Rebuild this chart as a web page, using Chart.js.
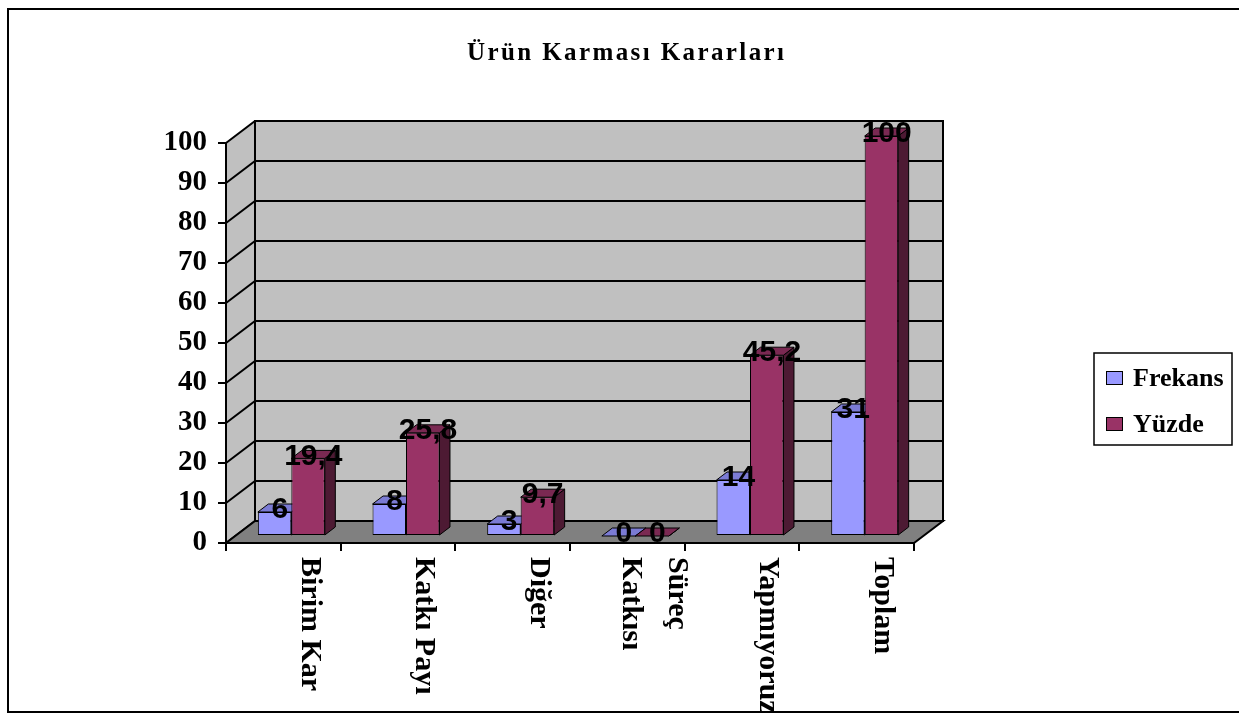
<!DOCTYPE html>
<html lang="tr">
<head>
<meta charset="utf-8">
<title>Ürün Karması Kararları</title>
<script src="https://cdn.jsdelivr.net/npm/chart.js@4.4.1/dist/chart.umd.min.js"></script>
<style>
  html, body { margin: 0; padding: 0; background: #fff; }
  canvas { display: block; }
</style>
</head>
<body>
<canvas id="chart" width="1239" height="717"></canvas>
<script>
// ---- data ----
const categories = ['Birim Kar', 'Katkı Payı', 'Diğer', ['Süreç', 'Katkısı'], 'Yapmıyoruz', 'Toplam'];
const frekans = [6, 8, 3, 0, 14, 31];
const yuzde = [19.4, 25.8, 9.7, 0, 45.2, 100];
const seriesNames = ['Frekans', 'Yüzde'];
const yMin = 0;
const yMax = 100;
const yStep = 10;
const chartTitle = 'Ürün Karması Kararları';

// ---- look ----
const SERIF = "'Liberation Serif', 'Times New Roman', serif";
const SANS = "'Liberation Sans', Arial, sans-serif";
const FRONT = ['#9999FF', '#993366'];
const TOP = ['#7B7BD4', '#7A2952'];
const SIDE = ['#4C4C80', '#4D1A33'];
const PLOT = { left: 226, top: 143, right: 914, bottom: 543 };  // front plane of the plot
const WALL = { dx: 29, dy: -22 };        // depth of the walls / floor
const BAR_SHIFT = { dx: 8, dy: -7 };     // bars stand this far behind the front plane
const BAR_DEPTH = { dx: 10.5, dy: -8 };  // thickness of each column

function poly(ctx, pts, fill, stroke) {
  ctx.beginPath();
  ctx.moveTo(pts[0][0], pts[0][1]);
  for (let i = 1; i < pts.length; i++) ctx.lineTo(pts[i][0], pts[i][1]);
  ctx.closePath();
  if (fill) { ctx.fillStyle = fill; ctx.fill(); }
  if (stroke) { ctx.stroke(); }
}

function fmt(v) { return String(v).replace('.', ','); }

const excel3d = {
  id: 'excel3d',
  beforeDraw(chart) {
    const ctx = chart.ctx;
    const { left, right, top, bottom } = chart.chartArea;
    const ys = chart.scales.y;
    const { dx, dy } = WALL;
    ctx.save();
    ctx.fillStyle = '#fff';
    ctx.fillRect(0, 0, chart.width, chart.height);
    // back wall and left side wall
    ctx.fillStyle = '#C0C0C0';
    ctx.fillRect(left + dx, top + dy, right - left, bottom - top);
    poly(ctx, [[left, top], [left + dx, top + dy], [left + dx, bottom + dy], [left, bottom]], '#C0C0C0');
    // gridlines on both walls
    ctx.strokeStyle = '#000';
    ctx.lineWidth = 2;
    ys.ticks.forEach(t => {
      const y = ys.getPixelForValue(t.value);
      ctx.beginPath();
      ctx.moveTo(left, y);
      ctx.lineTo(left + dx, y + dy);
      ctx.lineTo(right + dx, y + dy);
      ctx.stroke();
    });
    // floor
    poly(ctx, [[left, bottom], [left + dx, bottom + dy], [right + dx, bottom + dy], [right, bottom]], '#808080', true);
    // wall outlines
    ctx.strokeRect(left + dx, top + dy, right - left, bottom - top);
    ctx.restore();
  },
  beforeDatasetsDraw(chart) {
    const ctx = chart.ctx;
    ctx.save();
    ctx.translate(BAR_SHIFT.dx, BAR_SHIFT.dy);
    ctx.lineWidth = 1;
    ctx.strokeStyle = '#000';
    const { dx, dy } = BAR_DEPTH;
    chart.data.datasets.forEach((ds, i) => {
      const meta = chart.getDatasetMeta(i);
      meta.data.forEach(el => {
        const x0 = el.x - el.width / 2;
        const x1 = el.x + el.width / 2;
        const yt = Math.min(el.y, el.base);
        const yb = Math.max(el.y, el.base);
        poly(ctx, [[x1, yt], [x1 + dx, yt + dy], [x1 + dx, yb + dy], [x1, yb]], SIDE[i], true);
        poly(ctx, [[x0, yt], [x0 + dx, yt + dy], [x1 + dx, yt + dy], [x1, yt]], TOP[i], true);
      });
    });
  },
  afterDatasetsDraw(chart) {
    chart.ctx.restore();
  },
  afterDraw(chart) {
    const ctx = chart.ctx;
    const xs = chart.scales.x;
    ctx.save();

    // value labels, centred on each column's top face
    ctx.fillStyle = '#000';
    ctx.font = 'bold 30px ' + SANS;
    ctx.textAlign = 'center';
    ctx.textBaseline = 'middle';
    chart.data.datasets.forEach((ds, i) => {
      const meta = chart.getDatasetMeta(i);
      meta.data.forEach((el, j) => {
        const cx = el.x + BAR_SHIFT.dx + BAR_DEPTH.dx / 2;
        const cy = el.y + BAR_SHIFT.dy + BAR_DEPTH.dy / 2;
        ctx.fillText(fmt(ds.data[j]), cx, cy + 2);
      });
    });

    // category labels, turned to read downwards
    ctx.font = 'bold 30px ' + SERIF;
    ctx.textAlign = 'left';
    ctx.textBaseline = 'middle';
    const lineH = 46;
    chart.data.labels.forEach((lab, i) => {
      const lines = Array.isArray(lab) ? lab : [lab];
      const x = xs.getPixelForValue(i) + 26;
      ctx.save();
      ctx.translate(x, PLOT.bottom + 14);
      ctx.rotate(Math.PI / 2);
      lines.forEach((ln, k) => {
        ctx.fillText(ln, 0, (k - (lines.length - 1) / 2) * lineH);
      });
      ctx.restore();
    });

    // title
    ctx.font = 'bold 25px ' + SERIF;
    ctx.letterSpacing = '2.4px';
    ctx.textAlign = 'left';
    const tw = ctx.measureText(chartTitle).width - 2.4;
    ctx.fillText(chartTitle, 625.5 - tw / 2, 54);
    ctx.letterSpacing = '0px';

    // legend
    ctx.lineWidth = 1.5;
    ctx.strokeStyle = '#000';
    ctx.strokeRect(1094, 353, 138, 92);
    ctx.font = 'bold 26px ' + SERIF;
    ctx.textBaseline = 'middle';
    chart.data.datasets.forEach((ds, i) => {
      const cy = 378 + i * 46;
      ctx.fillStyle = ds.backgroundColor;
      ctx.fillRect(1106, cy - 7, 17, 14);
      ctx.lineWidth = 1;
      ctx.strokeRect(1106.5, cy - 6.5, 16, 13);
      ctx.fillStyle = '#000';
      ctx.fillText(ds.label, 1133, cy + 1);
    });

    // frame
    ctx.lineWidth = 2;
    ctx.strokeStyle = '#000';
    ctx.strokeRect(8, 9, 1250, 703);
    ctx.restore();
  }
};

const axisLine = { display: true, color: '#000', width: 2 };

new Chart(document.getElementById('chart'), {
  type: 'bar',
  data: {
    labels: categories,
    datasets: [
      { label: seriesNames[0], data: frekans, backgroundColor: FRONT[0] },
      { label: seriesNames[1], data: yuzde, backgroundColor: FRONT[1] }
    ].map(d => Object.assign(d, {
      borderColor: '#000',
      borderWidth: 1,
      borderSkipped: false,
      categoryPercentage: 0.584,
      barPercentage: 1,
      clip: false
    }))
  },
  options: {
    responsive: false,
    devicePixelRatio: 1,
    animation: false,
    events: [],
    layout: { padding: { left: 0, top: PLOT.top, right: 1239 - PLOT.right, bottom: 0 } },
    plugins: {
      legend: { display: false },
      title: { display: false },
      tooltip: { enabled: false }
    },
    scales: {
      x: {
        type: 'category',
        grid: { offset: true, drawOnChartArea: false, drawTicks: true, tickLength: 8, color: '#000', lineWidth: 2 },
        border: axisLine,
        ticks: { display: false },
        afterFit(s) { s.height = 717 - PLOT.bottom; }
      },
      y: {
        min: yMin,
        max: yMax,
        grid: { drawOnChartArea: false, drawTicks: true, tickLength: 8, color: '#000', lineWidth: 2 },
        border: axisLine,
        ticks: {
          stepSize: yStep,
          padding: 11,
          color: '#000',
          font: { family: SERIF, size: 29, weight: 'bold' }
        },
        afterFit(s) { s.width = PLOT.left; }
      }
    }
  },
  plugins: [excel3d]
});
</script>
</body>
</html>
